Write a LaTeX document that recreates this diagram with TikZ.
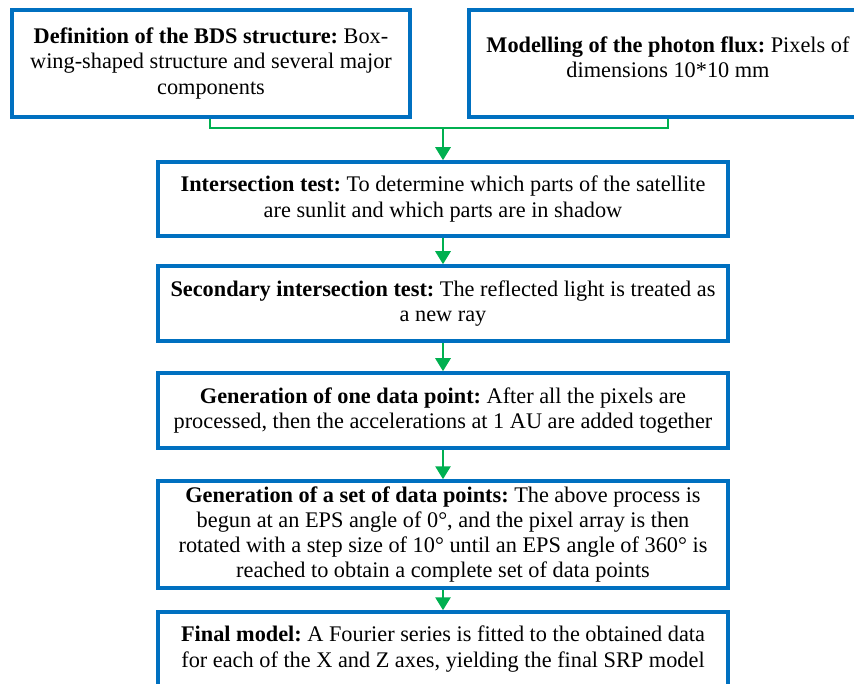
\documentclass[tikz,border=0pt]{standalone}
\usepackage{fontspec}
\setmainfont{Liberation Serif}[BoldFont={Liberation Serif Bold}]
\usetikzlibrary{arrows.meta}
\definecolor{boxblue}{RGB}{0,112,192}
\definecolor{flowgreen}{RGB}{0,176,80}
\tikzset{
  boxtext/.style={align=center, font=\rmfamily\frenchspacing\fontsize{22.3}{25.2}\selectfont},
  stepbox/.style={boxtext, draw=boxblue, line width=3.5pt, fill=white, rectangle, inner sep=0pt},
  flow/.style={draw=flowgreen, line width=2.8pt},
  flowarrow/.style={flow, -{Triangle[length=13pt,width=15pt]}}
}
\begin{document}
\begin{tikzpicture}[x=1pt,y=-1pt]
\useasboundingbox (0,0) rectangle (854,684);
\clip (0,0) rectangle (854,684);
\fill[white] (0,0) rectangle (854,684);
\node[stepbox, minimum width=398pt, minimum height=107pt] (b1) at (211,63.5)
  {\textbf{Definition of the BDS structure:} Box-\\wing-shaped structure and several major\\components};
\node[stepbox, minimum width=398pt, minimum height=107pt] (b2) at (668,63.5) {};
\node[boxtext, inner sep=0pt] (b2text) at (668,57.5)
  {\textbf{Modelling of the photon flux:} Pixels of\\dimensions 10*10 mm};
\node[stepbox, minimum width=570pt, minimum height=74pt] (b3) at (443,199)
  {\textbf{Intersection test:} To determine which parts of the satellite\\are sunlit and which parts are in shadow};
\node[stepbox, minimum width=570pt, minimum height=75pt] (b4) at (443,303.5)
  {\textbf{Secondary intersection test:} The reflected light is treated as\\a new ray};
\node[stepbox, minimum width=570pt, minimum height=75pt] (b5) at (443,410.5)
  {\textbf{Generation of one data point:} After all the pixels are\\processed, then the accelerations at 1 AU are added together};
\node[stepbox, minimum width=570pt, minimum height=107pt] (b6) at (443,534.5)
  {\textbf{Generation of a set of data points:} The above process is\\begun at an EPS angle of 0°, and the pixel array is then\\rotated with a step size of 10° until an EPS angle of 360° is\\reached to obtain a complete set of data points};
\node[stepbox, minimum width=570pt, minimum height=74pt] (b7) at (443,649)
  {\textbf{Final model:} A Fourier series is fitted to the obtained data\\for each of the X and Z axes, yielding the final SRP model};
\coordinate (j) at (443,128);
\draw[flow] ([xshift=-1pt]b1.south) |- (j) -| (b2.south);
\draw[flowarrow] (j) -- (b3.north);
\draw[flowarrow] (b3.south) -- (b4.north);
\draw[flowarrow] (b4.south) -- (b5.north);
\draw[flowarrow] (b5.south) -- (b6.north);
\draw[flowarrow] (b6.south) -- (b7.north);
\end{tikzpicture}
\end{document}
